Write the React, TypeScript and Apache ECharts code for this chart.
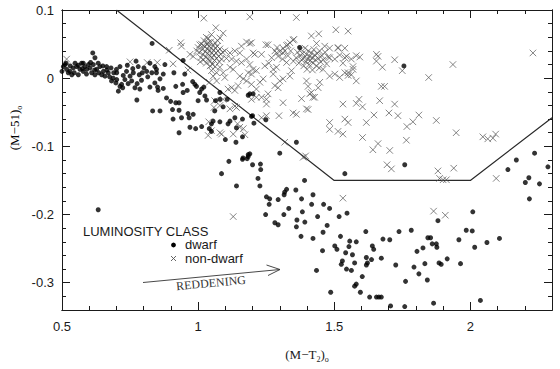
import React, { useEffect, useRef } from "react";
import * as echarts from "echarts";

const xMin = 0.5;
const xMax = 2.3;
const yMin = -0.34;
const yMax = 0.1;
const xTitle = "{a|(M−T}{s|2}{a|)}{s|o}";
const yTitle = "{a|(M−51)}{s|o}";
const legendTitle = "LUMINOSITY CLASS";
const legendNames = ["dwarf", "non-dwarf"];
const arrowLabel = "REDDENING";

const boundary = [[0.7, 0.1], [1.5, -0.15], [2.0, -0.15], [2.3, -0.058]];

const dwarfBand = [
  [0.500,0.010],[0.505,0.017],[0.511,0.020],[0.515,0.022],[0.517,0.013],[0.523,0.008],[0.529,0.010],[0.530,0.018],
  [0.536,0.005],[0.541,0.015],[0.545,0.008],[0.548,0.022],[0.554,0.017],[0.560,0.005],[0.560,0.019],[0.566,0.013],
  [0.572,0.022],[0.575,0.014],[0.578,0.010],[0.578,0.022],[0.584,0.017],[0.590,0.006],[0.591,0.013],[0.597,0.020],
  [0.603,0.015],[0.605,0.023],[0.609,0.008],[0.613,0.037],[0.615,0.020],[0.620,0.012],[0.621,0.005],[0.621,0.030],
  [0.627,0.013],[0.633,0.022],[0.635,0.008],[0.639,0.017],[0.646,0.005],[0.650,0.018],[0.652,0.010],[0.658,0.003],
  [0.664,0.017],[0.665,0.012],[0.670,0.008],[0.675,0.002],[0.680,0.015],[0.682,-0.004],[0.688,0.000],[0.690,0.008],
  [0.698,-0.007],[0.700,0.013],[0.701,0.008],[0.701,-0.002],[0.707,-0.019],[0.713,0.017],[0.713,-0.012],[0.719,-0.009],
  [0.723,-0.014],[0.725,0.004],[0.731,-0.002],[0.737,0.010],[0.740,0.019],[0.743,-0.008],[0.750,0.003],[0.756,-0.004],
  [0.760,0.014],[0.762,0.008],[0.768,-0.014],[0.772,0.025],[0.776,-0.008],[0.780,0.017],[0.784,0.005],[0.786,-0.016],
  [0.792,-0.003],[0.795,0.008],[0.801,0.015],[0.811,0.010],[0.815,0.002],[0.823,0.022],[0.823,-0.013],[0.830,0.008],
  [0.831,0.051],[0.841,0.017],[0.841,-0.007],[0.847,0.013],[0.847,0.008],[0.851,-0.013],[0.853,-0.018],[0.860,-0.001],
  [0.872,0.006],[0.872,-0.015],[0.878,0.020],[0.911,0.008],[0.918,-0.012],[0.945,0.026],[0.951,0.006]
];

const dwarfMid = [
  [0.633,-0.193],[0.775,-0.032],[0.833,-0.048],[0.860,-0.048],[0.884,-0.029],[0.899,-0.034],[0.906,-0.046],[0.908,-0.060],
  [0.918,-0.036],[0.930,-0.036],[0.930,-0.047],[0.930,-0.080],[0.939,-0.058],[0.943,-0.009],[0.945,-0.021],[0.960,-0.018],
  [0.963,-0.052],[0.967,-0.058],[0.970,-0.072],[0.980,-0.005],[0.982,-0.053],[0.988,-0.009],[0.991,-0.074],[0.994,-0.012],
  [1.000,-0.033],[1.006,-0.021],[1.013,-0.016],[1.013,-0.071],[1.021,-0.013],[1.025,-0.026],[1.031,-0.032],[1.041,-0.074],
  [1.049,-0.078],[1.049,-0.067],[1.055,-0.063],[1.061,-0.048],[1.064,-0.033],[1.080,-0.021],[1.080,-0.031],[1.080,-0.064],
  [1.092,-0.042],[1.100,-0.090],[1.107,-0.031],[1.110,-0.067],[1.117,-0.063],[1.135,-0.058],[1.139,-0.094],[1.141,-0.073],
  [1.163,-0.060],[1.163,-0.086],[1.165,-0.117],[1.184,-0.112],[1.184,-0.025],[1.190,-0.023],[1.202,-0.023],[1.190,-0.111],
  [1.196,-0.056],[1.200,-0.055],[1.205,-0.066],[1.249,-0.061],[1.300,-0.110],[1.361,-0.094],[1.373,0.045],[1.756,0.018]
];

const dwarfTail = [
  [1.113,-0.122],[1.163,-0.119],[1.180,-0.118],[1.184,-0.115],[1.086,-0.140],[1.200,-0.127],[1.229,-0.126],[1.230,-0.134],
  [1.141,-0.158],[1.220,-0.147],[1.227,-0.158],[1.251,-0.174],[1.263,-0.177],[1.261,-0.185],[1.248,-0.200],[1.294,-0.178],
  [1.282,-0.212],[1.294,-0.215],[1.318,-0.167],[1.325,-0.163],[1.316,-0.171],[1.333,-0.191],[1.315,-0.200],[1.359,-0.164],
  [1.363,-0.208],[1.361,-0.218],[1.380,-0.177],[1.383,-0.196],[1.392,-0.211],[1.378,-0.232],[1.391,-0.150],[1.417,-0.185],
  [1.422,-0.171],[1.439,-0.203],[1.422,-0.235],[1.461,-0.185],[1.474,-0.216],[1.459,-0.226],[1.483,-0.191],[1.457,-0.253],
  [1.435,-0.282],[1.518,-0.203],[1.547,-0.198],[1.539,-0.140],[1.502,-0.246],[1.510,-0.251],[1.523,-0.232],[1.542,-0.256],
  [1.530,-0.268],[1.526,-0.273],[1.557,-0.239],[1.554,-0.247],[1.581,-0.240],[1.567,-0.259],[1.575,-0.271],[1.545,-0.280],
  [1.563,-0.282],[1.487,-0.314],[1.575,-0.305],[1.581,-0.302],[1.596,-0.314],[1.603,-0.291],[1.616,-0.225],[1.618,-0.263],
  [1.622,-0.271],[1.618,-0.274],[1.640,-0.246],[1.645,-0.251],[1.637,-0.266],[1.630,-0.321],[1.655,-0.321],[1.664,-0.321],
  [1.673,-0.321],[1.679,-0.236],[1.673,-0.264],[1.759,-0.127],[2.169,-0.120],[2.138,-0.134],[2.202,-0.153],[2.215,-0.146],
  [2.254,-0.155],[2.217,-0.177],[2.236,-0.110],[2.285,-0.130],[2.009,-0.196],[1.881,-0.209],[1.704,-0.237],[1.738,-0.225],
  [1.783,-0.223],[1.726,-0.274],[1.804,-0.254],[1.826,-0.249],[1.844,-0.234],[1.854,-0.234],[1.860,-0.243],[1.875,-0.243],
  [1.877,-0.248],[1.793,-0.277],[1.811,-0.287],[1.833,-0.272],[1.885,-0.271],[1.893,-0.273],[1.915,-0.265],[1.842,-0.296],
  [1.762,-0.298],[1.958,-0.237],[1.964,-0.272],[1.985,-0.223],[2.007,-0.224],[2.016,-0.248],[2.061,-0.241],[2.107,-0.235],
  [1.707,-0.334],[1.759,-0.335],[1.865,-0.330],[2.037,-0.326]
];

const nonDwarfCoreA = [
  [0.995,0.040],[1.000,0.045],[1.005,0.038],[1.008,0.024],[1.010,0.030],[1.012,0.050],[1.015,0.042],[1.018,0.035],
  [1.020,0.027],[1.022,0.055],[1.025,0.046],[1.027,0.039],[1.028,0.031],[1.030,0.022],[1.030,0.060],[1.032,0.050],
  [1.034,0.043],[1.035,0.036],[1.037,0.028],[1.038,0.058],[1.040,0.047],[1.042,0.040],[1.043,0.033],[1.044,0.018],
  [1.045,0.025],[1.046,0.053],[1.048,0.044],[1.050,0.037],[1.051,0.030],[1.053,0.020],[1.055,0.048],[1.057,0.041],
  [1.058,0.034],[1.060,0.026],[1.062,0.052],[1.063,0.017],[1.064,0.044],[1.066,0.037],[1.068,0.029],[1.070,0.047],
  [1.072,0.055],[1.073,0.040],[1.075,0.032],[1.078,0.024],[1.080,0.043],[1.083,0.035],[1.086,0.028],[1.090,0.038]
];

const nonDwarfCoreB = [
  [1.360,0.030],[1.365,0.038],[1.370,0.022],[1.374,0.033],[1.378,0.042],[1.380,0.027],[1.384,0.036],[1.388,0.018],
  [1.390,0.030],[1.393,0.044],[1.396,0.024],[1.398,0.035],[1.400,0.013],[1.402,0.028],[1.405,0.040],[1.408,0.020],
  [1.410,0.032],[1.413,0.026],[1.416,0.037],[1.419,0.030],[1.420,0.012],[1.422,0.022],[1.425,0.042],[1.428,0.034],
  [1.431,0.027],[1.435,0.018],[1.438,0.036],[1.442,0.029],[1.445,0.015],[1.446,0.040],[1.450,0.024],[1.455,0.033],
  [1.460,0.027],[1.466,0.038],[1.472,0.021],[1.478,0.031]
];

const nonDwarfLeft = [
  [0.517,0.028],[0.750,0.024],[0.813,0.023],[0.850,0.023],[0.894,0.041],[0.908,0.021],[0.936,0.052],[0.939,0.047],
  [0.963,0.012],[0.970,0.035],[0.982,0.032],[1.006,0.049],[1.019,0.048],[1.021,0.088],[1.037,0.052],[1.049,0.064],
  [1.065,0.074],[1.080,0.059],[1.092,0.066],[1.049,0.011],[1.068,0.008],[1.055,0.003],[1.080,0.016],[1.092,0.008],
  [1.041,-0.006],[1.068,-0.004],[1.061,-0.033],[1.092,-0.031],[1.058,-0.043],[1.039,-0.064],[1.049,-0.077],[1.037,-0.084],
  [1.086,-0.082],[1.080,-0.040],[1.117,-0.045],[1.141,-0.043],[1.135,-0.041],[1.145,-0.067],[1.153,-0.072],[1.166,-0.074],
  [1.172,-0.083],[1.080,-0.080],[1.129,-0.082],[1.129,-0.203]
];

const nonDwarfMiddle = [
  [1.190,0.090],[1.159,0.047],[1.178,0.053],[1.196,0.052],[1.190,0.051],[1.249,0.049],[1.257,0.049],[1.337,0.052],
  [1.352,0.057],[1.325,0.048],[1.135,0.040],[1.153,0.037],[1.117,0.037],[1.098,0.040],[1.202,0.037],[1.208,0.035],
  [1.233,0.035],[1.282,0.040],[1.300,0.039],[1.318,0.040],[1.294,0.032],[1.312,0.037],[1.330,0.033],[1.288,0.037],
  [1.312,0.044],[1.330,0.049],[1.349,0.056],[1.123,0.028],[1.141,0.025],[1.104,0.029],[1.159,0.023],[1.178,0.028],
  [1.190,0.020],[1.202,0.013],[1.214,0.011],[1.196,0.006],[1.184,0.008],[1.245,0.018],[1.276,0.013],[1.276,0.006],
  [1.270,0.030],[1.260,0.022],[1.290,0.045],[1.310,0.028],[1.340,0.040],[1.350,0.025],[1.325,0.023],[1.343,0.011],
  [1.312,-0.001],[1.288,0.016],[1.337,0.003],[1.117,0.016],[1.098,0.001],[1.129,0.013],[1.153,0.003],[1.166,-0.001],
  [1.147,-0.011],[1.123,-0.014],[1.110,-0.016],[1.135,-0.018],[1.178,-0.004],[1.196,-0.009],[1.227,-0.006],[1.214,-0.016],
  [1.239,-0.001],[1.233,-0.028],[1.251,-0.031],[1.257,-0.023],[1.196,-0.031],[1.214,-0.028],[1.251,-0.038],[1.282,-0.011],
  [1.294,-0.014],[1.300,-0.004],[1.312,-0.036],[1.297,-0.055],[1.251,-0.055],[1.233,-0.058],[1.318,-0.094],[1.349,-0.051],
  [1.361,-0.053],[1.380,-0.030],[1.398,-0.045],[1.404,-0.046],[1.416,-0.021],[1.422,-0.028],[1.404,-0.012],[1.410,-0.023],
  [1.428,-0.028],[1.441,-0.014],[1.398,-0.004],[1.447,-0.006],[1.395,-0.114],[1.386,-0.116],[1.361,0.089],[1.416,0.062],
  [1.443,0.065],[1.435,0.051],[1.465,0.047]
];

const nonDwarfRight = [
  [1.506,0.071],[1.551,0.069],[1.483,0.044],[1.514,0.044],[1.539,0.044],[1.514,0.045],[1.483,0.030],[1.502,0.028],
  [1.539,0.030],[1.563,0.028],[1.520,0.034],[1.545,0.032],[1.581,0.033],[1.594,0.031],[1.532,0.022],[1.551,0.008],
  [1.563,0.005],[1.569,0.017],[1.569,0.013],[1.551,0.004],[1.581,-0.004],[1.459,0.013],[1.483,0.003],[1.502,0.006],
  [1.520,0.001],[1.539,0.008],[1.655,0.035],[1.661,0.032],[1.655,0.025],[1.677,0.016],[1.722,0.027],[1.750,0.011],
  [1.847,0.001],[1.936,0.020],[2.230,0.037],[1.673,-0.012],[1.685,-0.012],[1.532,-0.038],[1.581,-0.037],[1.591,-0.031],
  [1.604,-0.042],[1.667,-0.033],[1.722,-0.038],[1.701,-0.051],[1.734,-0.055],[1.811,-0.054],[1.789,-0.064],[1.767,-0.071],
  [1.875,-0.062],[1.948,-0.080],[1.765,-0.091],[1.661,-0.096],[1.642,-0.105],[1.704,-0.106],[1.604,-0.087],[1.694,-0.127],
  [1.710,-0.133],[1.881,-0.136],[1.939,-0.132],[1.887,-0.147],[1.900,-0.149],[1.912,-0.149],[1.865,-0.195],[1.908,-0.201],
  [2.046,-0.086],[2.064,-0.089],[2.083,-0.088],[2.093,-0.082],[2.095,-0.147],[1.483,-0.065],[1.483,-0.075],[1.514,-0.078],
  [1.532,-0.082],[1.539,-0.060],[1.551,-0.065],[1.618,-0.065],[1.646,-0.054],[1.532,-0.176]
];

const dwarf = [...dwarfBand, ...dwarfMid, ...dwarfTail];
const nonDwarf = [...nonDwarfCoreA, ...nonDwarfCoreB, ...nonDwarfLeft, ...nonDwarfMiddle, ...nonDwarfRight];

export default function App() {
  const ref = useRef<HTMLDivElement>(null);
  useEffect(() => {
    document.body.style.margin = "0";
    const chart = echarts.init(ref.current as HTMLDivElement, null, { renderer: "svg" });
    const ink = "#1a1a1a";
    const sans = "'Liberation Sans', Arial, sans-serif";
    const serif = "'Liberation Serif', 'Times New Roman', serif";
    const axisLine = { show: true, onZero: false, lineStyle: { color: ink, width: 1 } };
    const tickStyle = { color: ink, width: 1 };
    const xBase = { type: "value", min: xMin, max: xMax, splitLine: { show: false }, axisLine };
    const yBase = { type: "value", min: yMin, max: yMax, splitLine: { show: false }, axisLine };
    const labelStyle = { color: ink, fontSize: 13, fontFamily: sans };
    const richTitle = {
      a: { fontFamily: serif, fontSize: 13, color: ink, lineHeight: 18 },
      s: { fontFamily: serif, fontSize: 8, color: ink, lineHeight: 9, verticalAlign: "bottom" },
    };
    chart.setOption({
      animation: false,
      grid: { left: 62, right: 8, top: 10, bottom: 59 },
      xAxis: [
        { ...xBase, position: "bottom", interval: 0.1, axisTick: { inside: true, length: 4, lineStyle: tickStyle }, axisLabel: { show: false } },
        {
          ...xBase, position: "bottom", interval: 0.5,
          axisTick: { inside: true, length: 8, lineStyle: tickStyle },
          axisLabel: { ...labelStyle, margin: 10, showMaxLabel: false },
          name: xTitle, nameLocation: "middle", nameGap: 35,
          nameTextStyle: { rich: richTitle },
        },
        { ...xBase, position: "top", interval: 0.1, axisTick: { inside: true, length: 4, lineStyle: tickStyle }, axisLabel: { show: false } },
        { ...xBase, position: "top", interval: 0.5, axisTick: { inside: true, length: 8, lineStyle: tickStyle }, axisLabel: { show: false } },
      ],
      yAxis: [
        { ...yBase, position: "left", interval: 0.02, axisTick: { inside: true, length: 4, lineStyle: tickStyle }, axisLabel: { show: false } },
        {
          ...yBase, position: "left", splitNumber: 4,
          axisTick: { inside: true, length: 8, lineStyle: tickStyle },
          axisLabel: { ...labelStyle, margin: 8, showMinLabel: false },
        },
        { ...yBase, position: "right", interval: 0.02, axisTick: { inside: true, length: 4, lineStyle: tickStyle }, axisLabel: { show: false } },
        { ...yBase, position: "right", splitNumber: 4, axisTick: { inside: true, length: 8, lineStyle: tickStyle }, axisLabel: { show: false } },
      ],
      series: [
        {
          type: "line", xAxisIndex: 1, yAxisIndex: 1, data: boundary, symbol: "none",
          lineStyle: { color: "#2a2a2a", width: 1.2 }, z: 1,
        },
        {
          name: legendNames[1], type: "scatter", xAxisIndex: 1, yAxisIndex: 1, data: nonDwarf,
          symbol: "path://M0 0L10 10M10 0L0 10", symbolSize: 6.5,
          itemStyle: { color: "rgba(0,0,0,0)", borderColor: "#555", borderWidth: 0.9 }, z: 2,
        },
        {
          name: legendNames[0], type: "scatter", xAxisIndex: 1, yAxisIndex: 1, data: dwarf,
          symbol: "circle", symbolSize: 5, itemStyle: { color: "#000" }, z: 3,
        },
      ],
      graphic: [
        {
          type: "text", x: 14, y: 128, rotation: Math.PI / 2,
          style: { text: yTitle, rich: richTitle, align: "center", verticalAlign: "middle" },
        },
        { type: "text", x: 83, y: 231, style: { text: legendTitle, fontFamily: sans, fontSize: 13, fill: ink, verticalAlign: "middle" } },
        { type: "circle", shape: { cx: 173.5, cy: 245, r: 2.4 }, style: { fill: "#000" } },
        { type: "text", x: 185, y: 244, style: { text: legendNames[0], fontFamily: sans, fontSize: 13, fill: ink, verticalAlign: "middle" } },
        { type: "line", shape: { x1: 171, y1: 256, x2: 176, y2: 261 }, style: { stroke: "#555", lineWidth: 0.9 } },
        { type: "line", shape: { x1: 176, y1: 256, x2: 171, y2: 261 }, style: { stroke: "#555", lineWidth: 0.9 } },
        { type: "text", x: 185, y: 258, style: { text: legendNames[1], fontFamily: sans, fontSize: 13, fill: ink, verticalAlign: "middle" } },
        { type: "line", shape: { x1: 143, y1: 282.5, x2: 280, y2: 269.5 }, style: { stroke: "#333", lineWidth: 0.9 } },
        { type: "line", shape: { x1: 280, y1: 269.5, x2: 266.5, y2: 265 }, style: { stroke: "#333", lineWidth: 0.9 } },
        { type: "line", shape: { x1: 280, y1: 269.5, x2: 268, y2: 275.5 }, style: { stroke: "#333", lineWidth: 0.9 } },
        {
          type: "text", x: 211, y: 283, rotation: 0.095,
          style: { text: arrowLabel, fontFamily: serif, fontSize: 12, fill: "#333", align: "center", verticalAlign: "middle" },
        },
      ],
    });
    return () => chart.dispose();
  }, []);
  return <div ref={ref} style={{ width: 560, height: 369 }} />;
}
